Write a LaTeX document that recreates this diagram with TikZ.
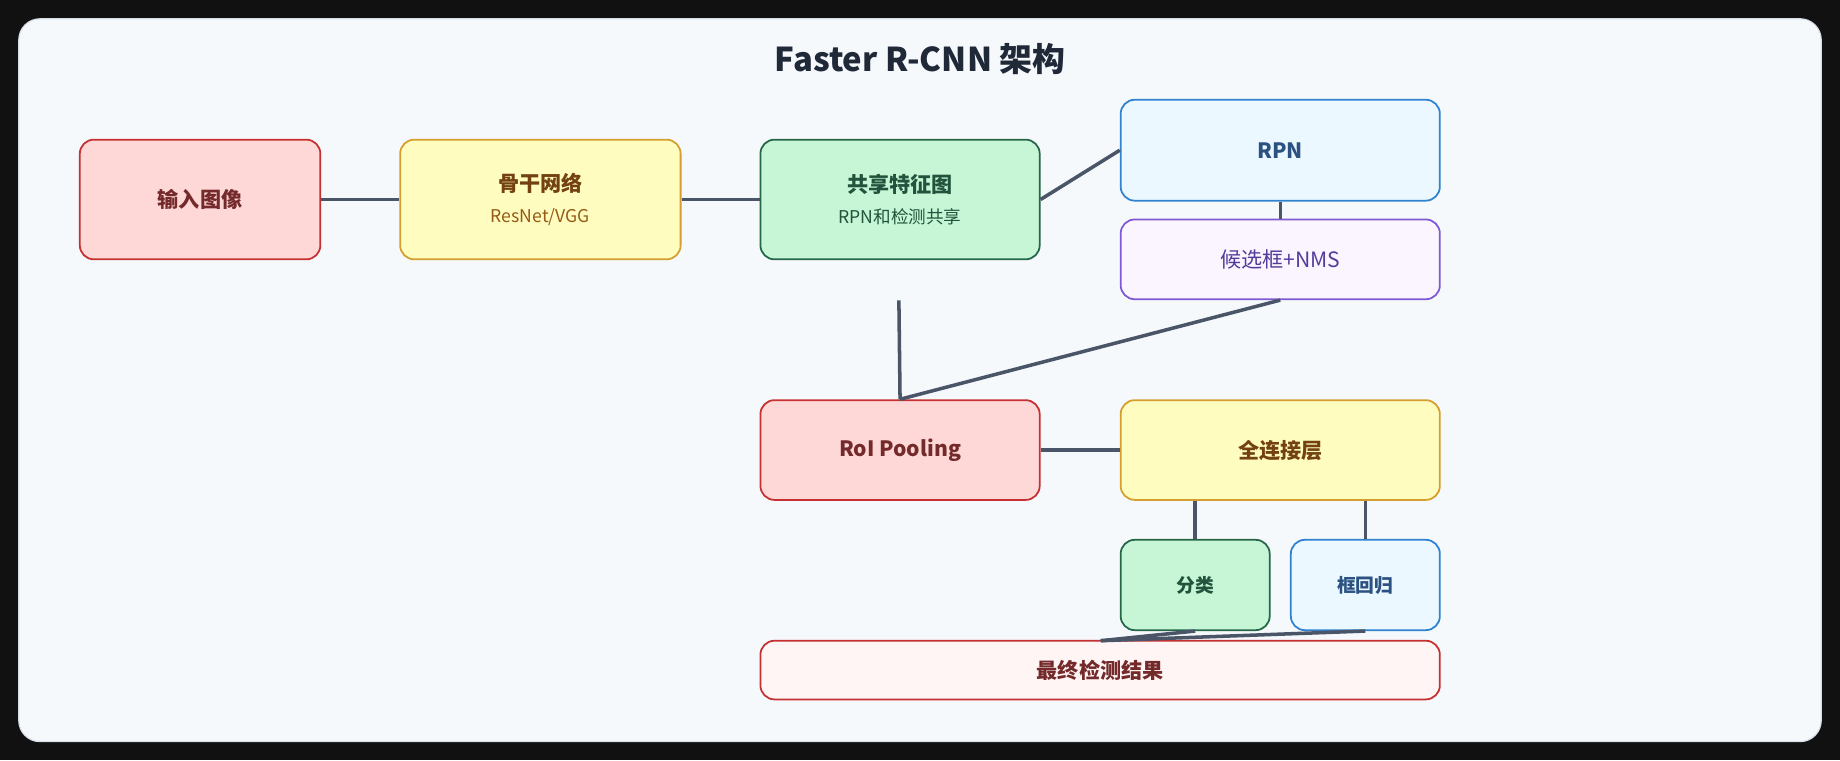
\documentclass[tikz,border=0pt]{standalone}
\usepackage{fontspec}
\setmainfont{Noto Sans CJK SC}
\newcommand\subfnt{\fontsize{15}{18}\selectfont\mdseries}
\definecolor{bgdark}{HTML}{111111}
\definecolor{card}{HTML}{F5F9FC}
\definecolor{cardb}{HTML}{D8DEE6}
\definecolor{line}{HTML}{4A5568}
\definecolor{rf}{HTML}{FED7D7}\definecolor{rb}{HTML}{C53030}\definecolor{rt}{HTML}{742A2A}
\definecolor{yf}{HTML}{FEFCBF}\definecolor{yb}{HTML}{D69E2E}\definecolor{yt}{HTML}{744210}\definecolor{ys}{HTML}{975A16}
\definecolor{gf}{HTML}{C6F6D5}\definecolor{gb}{HTML}{276749}\definecolor{gt}{HTML}{22543D}
\definecolor{bf}{HTML}{EBF8FF}\definecolor{bb}{HTML}{3182CE}\definecolor{bt}{HTML}{2C5282}
\definecolor{pf}{HTML}{FAF5FF}\definecolor{pb}{HTML}{805AD5}\definecolor{pt}{HTML}{553C9A}
\definecolor{lf}{HTML}{FFF5F5}
\begin{document}
\begin{tikzpicture}[x=1pt,y=-1pt,
 box/.style={draw,line width=1.5pt,rounded corners=12pt,align=center,inner sep=0pt,font=\fontsize{18}{22}\selectfont\bfseries},
 red/.style={box,fill=rf,draw=rb,text=rt},
 yel/.style={box,fill=yf,draw=yb,text=yt},
 grn/.style={box,fill=gf,draw=gb,text=gt},
 blu/.style={box,fill=bf,draw=bb,text=bt},
 pur/.style={box,fill=pf,draw=pb,text=pt,font=\fontsize{18}{22}\selectfont},
 lnk/.style={draw=line,line width=3pt}]
\useasboundingbox (0,0) rectangle (1568,648);
\fill[bgdark] (0,0) rectangle (1568,648);
\draw[fill=card,draw=cardb,line width=1pt,rounded corners=18pt] (16,16) rectangle (1552,632);
\node[font=\fontsize{28}{32}\selectfont\bfseries,text={rgb,255:red,31;green,41;blue,55}] (title) at (784,50) {Faster R-CNN 架构};
\node[red,minimum width=205pt,minimum height=102pt] (in) at (170.5,170) {输入图像};
\node[yel,minimum width=239pt,minimum height=102pt] (bb) at (460.5,170) {骨干网络\\[4pt]{\subfnt\color{ys}ResNet/VGG}};
\node[grn,minimum width=238pt,minimum height=102pt] (fm) at (767,170) {共享特征图\\[4pt]{\subfnt RPN和检测共享}};
\node[blu,minimum width=272pt,minimum height=86pt] (rpn) at (1091,128) {RPN};
\node[pur,minimum width=272pt,minimum height=68pt] (nms) at (1091,221) {候选框+NMS};
\node[red,minimum width=238pt,minimum height=85pt] (roi) at (767,383.5) {RoI Pooling};
\node[yel,minimum width=272pt,minimum height=85pt] (fc) at (1091,383.5) {全连接层};
\node[grn,minimum width=127pt,minimum height=77pt,font=\fontsize{16}{20}\selectfont\bfseries] (cls) at (1018.5,498.5) {分类};
\node[blu,minimum width=127pt,minimum height=77pt,font=\fontsize{16}{20}\selectfont\bfseries] (reg) at (1163.5,498.5) {框回归};
\node[red,fill=lf,minimum width=579pt,minimum height=50pt] (out) at (937.5,571) {最终检测结果};
\coordinate (fmb) at (766,256);
\coordinate (outt) at (938,546);
\draw[lnk] (in.east) -- (bb.west);
\draw[lnk] (bb.east) -- (fm.west);
\draw[lnk] (fm.east) -- (rpn.west);
\draw[lnk] (rpn.south) -- (nms.north);
\draw[lnk] (fmb) -- (roi.north);
\draw[lnk] (nms.south) -- (roi.north);
\draw[lnk] (roi.east) -- (fc.west);
\draw[lnk] (fc.south -| cls.north) -- (cls.north);
\draw[lnk] (fc.south -| reg.north) -- (reg.north);
\draw[lnk] (cls.south) -- (outt);
\draw[lnk] (reg.south) -- (outt);
\end{tikzpicture}
\end{document}
